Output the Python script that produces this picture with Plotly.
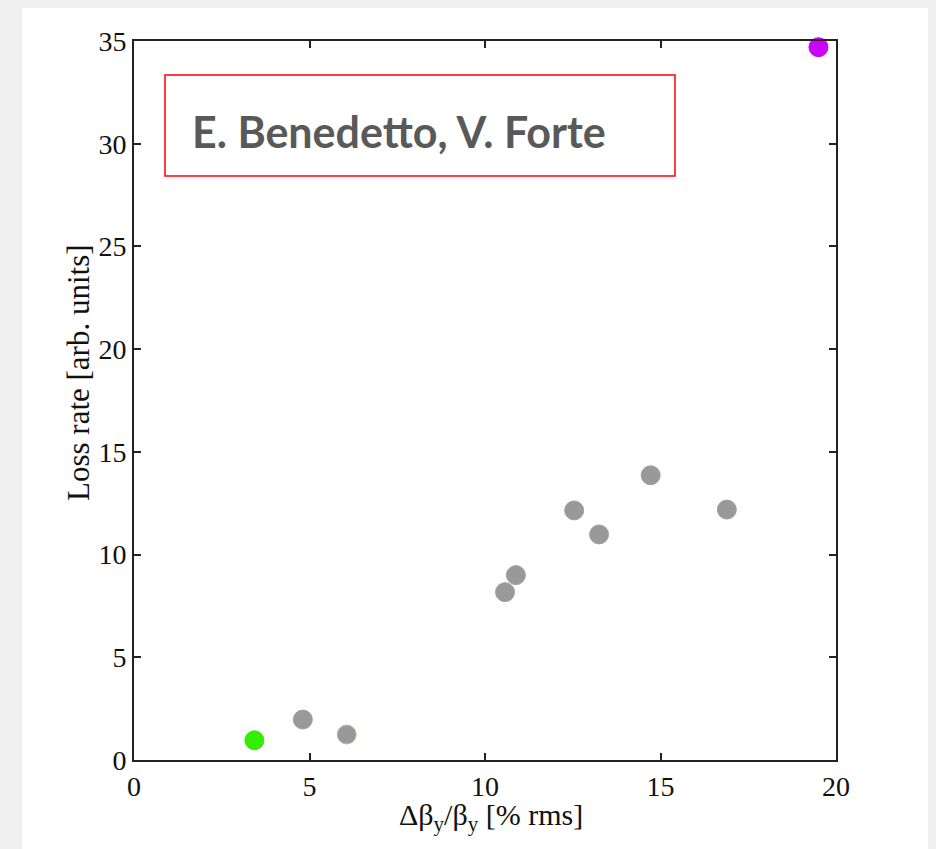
import plotly.graph_objects as go

# Data
x_vals = [3.43, 4.81, 6.06, 10.57, 10.88, 12.54, 13.25, 14.72, 16.89, 19.5]
y_vals = [0.96, 1.97, 1.24, 8.17, 9.0, 12.15, 10.98, 13.86, 12.19, 34.7]
fill_colors = ["#33ee00", "#999999", "#999999", "#999999", "#999999",
               "#999999", "#999999", "#999999", "#999999", "#cc00ff"]
edge_colors = ["#33ee00", "#a0a0a0", "#d8b48c", "#a0a0a0", "#a0a0a0",
               "#a0a0a0", "#a0a0a0", "#a0a0a0", "#a0a0a0", "#cc00ff"]
x_ticks = [0, 5, 10, 15, 20]
y_ticks = [0, 5, 10, 15, 20, 25, 30, 35]
x_title = "Δβ<sub>y</sub>/β<sub>y</sub> [% rms]"
y_title = "Loss rate [arb. units]"
credit = "E. Benedetto, V. Forte"

W, H = 936, 849
L, R, T, B = 134, 100, 41, 89

fig = go.Figure()
fig.add_trace(go.Scatter(
    x=x_vals, y=y_vals, mode="markers",
    marker=dict(size=19, color=fill_colors,
                line=dict(color=edge_colors, width=1)),
    cliponaxis=False, showlegend=False,
))

serif = "Liberation Serif, Times New Roman, serif"
axis_common = dict(
    showgrid=False, zeroline=False, showline=True, linecolor="#222222",
    linewidth=2, mirror="ticks", ticks="inside", ticklen=7, tickwidth=1.5,
    tickcolor="#222222", tickfont=dict(family=serif, size=28, color="#111111"),
)
fig.update_xaxes(range=[0, 20], tickvals=x_ticks, ticktext=[str(v) for v in x_ticks],
                 **axis_common)
fig.update_yaxes(range=[0, 35], tickvals=y_ticks, ticktext=[str(v) for v in y_ticks],
                 **axis_common)

pw, ph = W - L - R, H - T - B
def px(xp):
    return (xp - L) / pw
def py(yp):
    return (H - B - yp) / ph

shapes = [
    # white panel
    dict(type="rect", xref="paper", yref="paper", layer="below",
         x0=px(22), x1=px(928), y0=py(849), y1=py(8),
         fillcolor="white", line=dict(width=0)),
    # red box
    dict(type="rect", xref="paper", yref="paper",
         x0=px(165), x1=px(675), y0=py(176), y1=py(75),
         line=dict(color="#ff0000", width=1.5), fillcolor="rgba(0,0,0,0)"),
]

annotations = [
    dict(text="<b>" + credit + "</b>", xref="paper", yref="paper",
         x=px(190), y=py(131), xanchor="left", yanchor="middle", showarrow=False,
         font=dict(family="Lato, Open Sans, sans-serif", size=43, color="#595959")),
    dict(text=y_title, xref="paper", yref="paper", x=px(78), y=py(373),
         xanchor="center", yanchor="middle", textangle=-90, showarrow=False,
         font=dict(family=serif, size=31, color="#111111")),
    dict(text=x_title, xref="paper", yref="paper", x=px(491), y=py(817),
         xanchor="center", yanchor="middle", showarrow=False,
         font=dict(family=serif, size=30, color="#111111")),
]

fig.update_layout(
    width=W, height=H, margin=dict(l=L, r=R, t=T, b=B, pad=0),
    paper_bgcolor="#f0f0f0", plot_bgcolor="rgba(0,0,0,0)",
    shapes=shapes, annotations=annotations,
)

fig.write_html("out.html")
